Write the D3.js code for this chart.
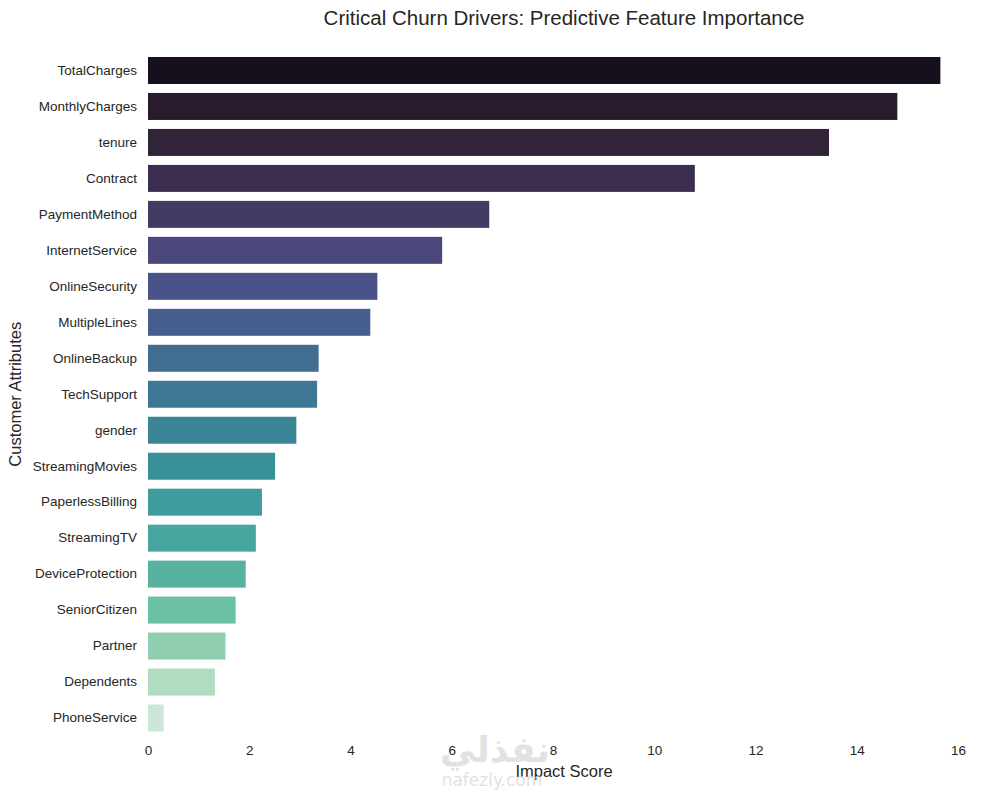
<!DOCTYPE html>
<html>
<head>
<meta charset="utf-8">
<title>Critical Churn Drivers</title>
<script src="https://cdn.jsdelivr.net/npm/d3@7"></script>
<style>
  body { margin: 0; background: #fff; font-family: "Liberation Sans", Arial, sans-serif; }
  .tick text { fill: #262626; }
</style>
</head>
<body>
<script>
// feature names, top to bottom
const features = ["TotalCharges", "MonthlyCharges", "tenure", "Contract", "PaymentMethod",
  "InternetService", "OnlineSecurity", "MultipleLines", "OnlineBackup", "TechSupport",
  "gender", "StreamingMovies", "PaperlessBilling", "StreamingTV", "DeviceProtection",
  "SeniorCitizen", "Partner", "Dependents", "PhoneService"];
// impact scores
const scores = [15.65, 14.8, 13.45, 10.8, 6.74, 5.81, 4.53, 4.39, 3.37, 3.34,
  2.93, 2.51, 2.25, 2.13, 1.93, 1.73, 1.53, 1.32, 0.31];
// mako-like palette, dark to light
const barColors = ["#170f1b", "#271b2d", "#312438", "#3a2d50", "#433b63",
  "#4a477a", "#4a528a", "#465f8f", "#416d92", "#3e7894",
  "#3b8495", "#3a9097", "#3f9c9c", "#48a6a0", "#57b39f",
  "#6cc0a4", "#8fceb0", "#b0dcbf", "#cde7d6"];
const xTicks = [0, 2, 4, 6, 8, 10, 12, 14, 16];

const width = 989, height = 790;
const margin = {top: 52.5, right: 9, bottom: 54, left: 148};

const svg = d3.select("body").append("svg")
  .attr("width", width)
  .attr("height", height);

const x = d3.scaleLinear()
  .domain([0, d3.max(scores) * 1.05])
  .range([margin.left, width - margin.right]);

const y = d3.scaleBand()
  .domain(features)
  .range([margin.top, height - margin.bottom])
  .paddingInner(0.25)
  .paddingOuter(0.125);

const color = d3.scaleOrdinal().domain(features).range(barColors);

const data = features.map((f, i) => ({name: f, value: scores[i]}));

svg.append("g")
  .selectAll("rect")
  .data(data)
  .enter()
  .append("rect")
  .attr("x", x(0))
  .attr("y", d => y(d.name))
  .attr("width", d => x(d.value) - x(0))
  .attr("height", y.bandwidth())
  .attr("fill", d => color(d.name));

// x axis
const xAxis = svg.append("g")
  .attr("transform", "translate(0," + (height - margin.bottom) + ")")
  .call(d3.axisBottom(x).tickValues(xTicks).tickSize(0).tickPadding(9));
xAxis.select(".domain").remove();
xAxis.selectAll("text").style("font-size", "13.5px").style("font-family", "Liberation Sans, Arial, sans-serif");

// y axis
const yAxis = svg.append("g")
  .attr("transform", "translate(" + margin.left + ",0)")
  .call(d3.axisLeft(y).tickSize(0).tickPadding(11));
yAxis.select(".domain").remove();
yAxis.selectAll("text").style("font-size", "13.5px").style("font-family", "Liberation Sans, Arial, sans-serif");

// title and labels
const plotMidX = (x.range()[0] + x.range()[1]) / 2;
svg.append("text")
  .attr("x", plotMidX)
  .attr("y", 25)
  .attr("text-anchor", "middle")
  .style("font-size", "20.5px")
  .style("fill", "#262626")
  .text("Critical Churn Drivers: Predictive Feature Importance");

svg.append("text")
  .attr("x", plotMidX)
  .attr("y", 777)
  .attr("text-anchor", "middle")
  .style("font-size", "16.5px")
  .style("fill", "#262626")
  .text("Impact Score");

svg.append("text")
  .attr("transform", "translate(21," + ((margin.top + height - margin.bottom) / 2) + ") rotate(-90)")
  .attr("text-anchor", "middle")
  .style("font-size", "16.5px")
  .style("fill", "#262626")
  .text("Customer Attributes");

// faint watermark
svg.append("text")
  .attr("x", 495)
  .attr("y", 762)
  .attr("text-anchor", "middle")
  .style("font-family", "DejaVu Sans, sans-serif")
  .style("font-weight", "bold")
  .style("font-size", "36px")
  .style("fill", "#d9d9d9")
  .style("opacity", 0.75)
  .text("نفذلي");
svg.append("text")
  .attr("x", 492)
  .attr("y", 786)
  .attr("text-anchor", "middle")
  .style("font-family", "DejaVu Sans, sans-serif")
  .style("font-size", "17px")
  .style("fill", "#d9d9d9")
  .style("opacity", 0.75)
  .text("nafezly.com");
</script>
</body>
</html>
